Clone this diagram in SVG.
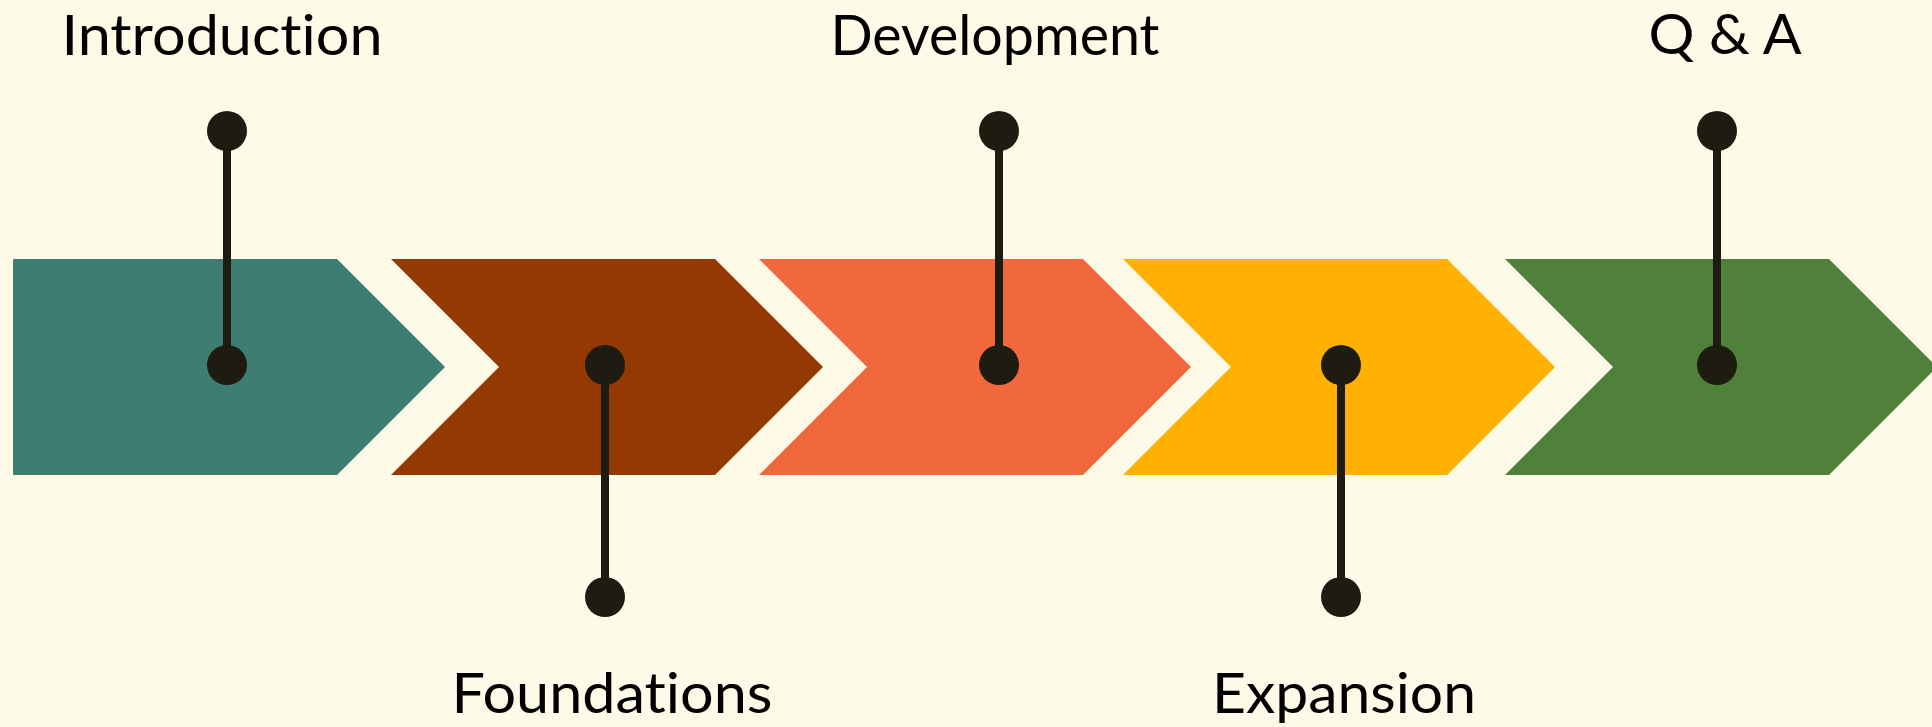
<svg xmlns="http://www.w3.org/2000/svg" width="1932" height="727" viewBox="0 0 1932 727">
<style>
.lbl{font-family:Lato,"Open Sans","Liberation Sans",sans-serif;font-size:57px;fill:#000;text-anchor:middle;font-variant-ligatures:none;font-feature-settings:"liga" 0,"clig" 0}
.pin{stroke:#1e1b10;stroke-width:8;fill:none}
.dot{fill:#1e1b10}
</style>
<rect width="1932" height="727" fill="#fdfbe7"/>
<g id="stage-introduction">
<polygon points="13,259 337,259 445,367 337,475 13,475" fill="#3e7d72"/>
<text class="lbl" x="222" y="55" textLength="321" lengthAdjust="spacingAndGlyphs">Introduction</text>
</g>
<g id="stage-foundations">
<polygon points="391,259 715,259 823,367 715,475 391,475 499,367" fill="#933901"/>
<text class="lbl" x="612" y="713" textLength="321" lengthAdjust="spacingAndGlyphs">Foundations</text>
</g>
<g id="stage-development">
<polygon points="759,259 1083,259 1191,367 1083,475 759,475 867,367" fill="#f2683e"/>
<text class="lbl" x="995" y="55" textLength="329" lengthAdjust="spacingAndGlyphs">Development</text>
</g>
<g id="stage-expansion">
<polygon points="1123,259 1447,259 1555,367 1447,475 1123,475 1231,367" fill="#ffb000"/>
<text class="lbl" x="1344" y="713" textLength="264" lengthAdjust="spacingAndGlyphs">Expansion</text>
</g>
<g id="stage-qa">
<polygon points="1505,259 1829,259 1937,367 1829,475 1505,475 1613,367" fill="#4f813b"/>
<text class="lbl" x="1725" y="54" textLength="153" lengthAdjust="spacingAndGlyphs">Q &amp; A</text>
</g>
<g id="connectors">
<line class="pin" x1="227" y1="131" x2="227" y2="365"/>
<circle class="dot" cx="227" cy="131" r="20"/>
<circle class="dot" cx="227" cy="365" r="20"/>
<line class="pin" x1="605" y1="365" x2="605" y2="597"/>
<circle class="dot" cx="605" cy="365" r="20"/>
<circle class="dot" cx="605" cy="597" r="20"/>
<line class="pin" x1="999" y1="131" x2="999" y2="365"/>
<circle class="dot" cx="999" cy="131" r="20"/>
<circle class="dot" cx="999" cy="365" r="20"/>
<line class="pin" x1="1341" y1="365" x2="1341" y2="597"/>
<circle class="dot" cx="1341" cy="365" r="20"/>
<circle class="dot" cx="1341" cy="597" r="20"/>
<line class="pin" x1="1717" y1="131" x2="1717" y2="365"/>
<circle class="dot" cx="1717" cy="131" r="20"/>
<circle class="dot" cx="1717" cy="365" r="20"/>
</g>
</svg>
